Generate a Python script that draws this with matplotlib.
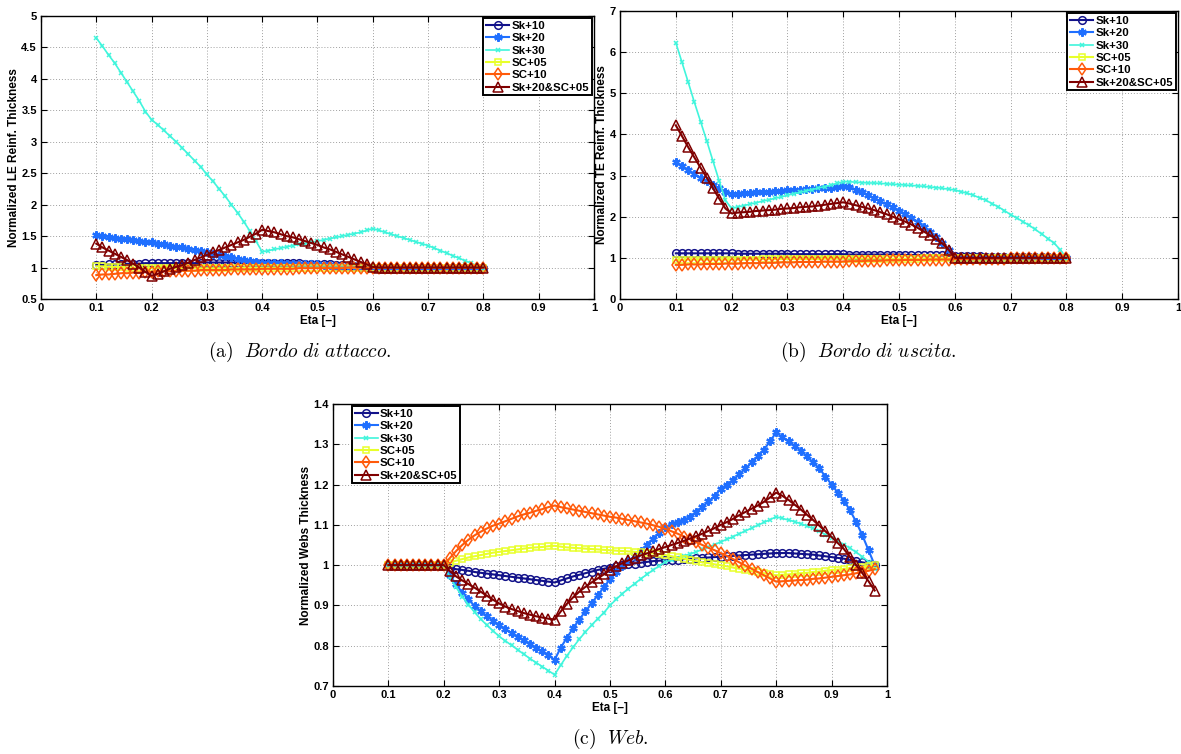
import numpy as np
import matplotlib
matplotlib.use("Agg")
import matplotlib.pyplot as plt

plt.rcParams['font.family'] = ['Liberation Sans', 'DejaVu Sans']
plt.rcParams['font.weight'] = 'bold'
plt.rcParams['mathtext.fontset'] = 'cm'

# ---------------- data ----------------
series_names = ['Sk+10', 'Sk+20', 'Sk+30', 'SC+05', 'SC+10', 'Sk+20&SC+05']

# Eta stations (step 1/90)
eta_ab = 0.1 + np.arange(64) / 90.0
eta_c = 0.1 + np.arange(80) / 90.0

# ---- (a) Leading edge reinforcement ----
le_sk10 = [1.04, 1.04, 1.05, 1.05, 1.05, 1.06, 1.06, 1.06, 1.07, 1.07,
           1.07, 1.07, 1.07, 1.07, 1.07, 1.07, 1.07, 1.08, 1.08,
           1.08, 1.08, 1.08, 1.08, 1.08, 1.08, 1.08, 1.08, 1.08,
           1.08, 1.08, 1.07, 1.07, 1.07, 1.07, 1.06, 1.06, 1.06,
           1.05, 1.05, 1.04, 1.04, 1.03, 1.03, 1.02, 1.01, 1.00,
           1.00, 1.00, 1.00, 1.00, 1.00, 1.00, 1.00, 1.00, 1.00,
           1.00, 1.00, 1.00, 1.00, 1.00, 1.00, 1.00, 1.00, 1.00]
le_sk20 = [1.51, 1.50, 1.49, 1.47, 1.46, 1.45, 1.44, 1.42, 1.41, 1.40,
           1.38, 1.37, 1.35, 1.33, 1.32, 1.30, 1.28, 1.26, 1.24,
           1.22, 1.20, 1.18, 1.16, 1.14, 1.12, 1.10, 1.09, 1.08,
           1.07, 1.07, 1.07, 1.06, 1.06, 1.06, 1.05, 1.05, 1.05,
           1.04, 1.04, 1.03, 1.03, 1.02, 1.02, 1.01, 1.01, 1.00,
           1.00, 1.00, 1.00, 1.00, 1.00, 1.00, 1.00, 1.00, 1.00,
           1.00, 1.00, 1.00, 1.00, 1.00, 1.00, 1.00, 1.00, 1.00]
le_sk30 = [4.65, 4.52, 4.38, 4.25, 4.10, 3.95, 3.80, 3.65, 3.48, 3.35,
           3.27, 3.18, 3.09, 3.00, 2.90, 2.80, 2.70, 2.60, 2.48,
           2.37, 2.25, 2.13, 2.00, 1.87, 1.73, 1.58, 1.42, 1.25,
           1.27, 1.29, 1.31, 1.33, 1.35, 1.37, 1.38, 1.40, 1.42,
           1.44, 1.46, 1.48, 1.50, 1.52, 1.54, 1.56, 1.59, 1.62,
           1.59, 1.56, 1.53, 1.50, 1.47, 1.44, 1.41, 1.38, 1.35,
           1.31, 1.27, 1.23, 1.19, 1.15, 1.11, 1.07, 1.03, 1.00]
le_sc05 = [1.02, 1.02, 1.01, 1.01, 1.01, 1.00, 1.00, 0.99, 0.99, 0.99,
           0.99, 0.99, 0.99, 0.99, 0.99, 0.99, 0.99, 0.99, 0.99,
           0.99, 0.99, 0.99, 0.99, 0.99, 1.00, 1.00, 1.00, 1.00,
           1.00, 1.00, 1.00, 1.00, 1.00, 1.00, 1.00, 1.00, 1.00,
           1.00, 1.00, 1.00, 1.00, 1.00, 1.00, 1.00, 1.00, 1.00,
           1.00, 1.00, 1.00, 1.00, 1.00, 1.00, 1.00, 1.00, 1.00,
           1.00, 1.00, 1.00, 1.00, 1.00, 1.00, 1.00, 1.00, 1.00]
le_sc10 = [0.88, 0.89, 0.89, 0.90, 0.91, 0.91, 0.92, 0.92, 0.93, 0.93,
           0.94, 0.94, 0.94, 0.95, 0.95, 0.95, 0.95, 0.96, 0.96,
           0.96, 0.96, 0.96, 0.97, 0.97, 0.97, 0.97, 0.97, 0.98,
           0.98, 0.98, 0.98, 0.98, 0.98, 0.99, 0.99, 0.99, 0.99,
           0.99, 0.99, 0.99, 0.99, 1.00, 1.00, 1.00, 1.00, 1.00,
           1.00, 1.00, 1.00, 1.00, 1.00, 1.00, 1.00, 1.00, 1.00,
           1.00, 1.00, 1.00, 1.00, 1.00, 1.00, 1.00, 1.00, 1.00]
le_mix = [1.38, 1.32, 1.27, 1.22, 1.17, 1.12, 1.06, 1.00, 0.93, 0.87,
          0.90, 0.94, 0.98, 1.01, 1.04, 1.08, 1.12, 1.16, 1.20,
          1.24, 1.28, 1.32, 1.36, 1.40, 1.44, 1.49, 1.54, 1.60,
          1.58, 1.56, 1.53, 1.50, 1.48, 1.45, 1.42, 1.39, 1.36,
          1.32, 1.29, 1.25, 1.21, 1.17, 1.13, 1.09, 1.05, 1.01,
          1.00, 1.00, 1.00, 1.00, 1.00, 1.00, 1.00, 1.00, 1.00,
          1.00, 1.00, 1.00, 1.00, 1.00, 1.00, 1.00, 1.00, 1.00]

# ---- (b) Trailing edge reinforcement ----
te_sk10 = [1.11, 1.11, 1.11, 1.11, 1.11, 1.11, 1.11, 1.11, 1.11, 1.11,
           1.10, 1.10, 1.10, 1.10, 1.10, 1.10, 1.10, 1.10, 1.10,
           1.09, 1.09, 1.09, 1.09, 1.09, 1.09, 1.09, 1.09, 1.09,
           1.08, 1.08, 1.08, 1.08, 1.08, 1.08, 1.08, 1.08, 1.08,
           1.07, 1.07, 1.07, 1.06, 1.06, 1.06, 1.06, 1.05, 1.05,
           1.05, 1.04, 1.04, 1.04, 1.03, 1.03, 1.03, 1.02, 1.02,
           1.02, 1.02, 1.01, 1.01, 1.01, 1.01, 1.00, 1.00, 1.00]
te_sk20 = [3.33, 3.23, 3.13, 3.03, 2.95, 2.87, 2.77, 2.69, 2.60, 2.55,
           2.56, 2.57, 2.58, 2.59, 2.60, 2.61, 2.62, 2.63, 2.64,
           2.65, 2.66, 2.67, 2.68, 2.69, 2.70, 2.71, 2.73, 2.75,
           2.72, 2.66, 2.60, 2.53, 2.45, 2.37, 2.30, 2.23, 2.15,
           2.07, 1.98, 1.88, 1.76, 1.64, 1.50, 1.36, 1.20, 1.00,
           1.00, 1.00, 1.00, 1.00, 1.00, 1.00, 1.00, 1.00, 1.00,
           1.00, 1.00, 1.00, 1.00, 1.00, 1.00, 1.00, 1.00, 1.00]
te_sk30 = [6.23, 5.75, 5.27, 4.78, 4.31, 3.84, 3.35, 2.87, 2.40, 2.20,
           2.24, 2.27, 2.31, 2.34, 2.38, 2.41, 2.45, 2.48, 2.52,
           2.56, 2.59, 2.63, 2.66, 2.70, 2.73, 2.77, 2.81, 2.85,
           2.85, 2.84, 2.83, 2.82, 2.82, 2.81, 2.80, 2.79, 2.78,
           2.77, 2.76, 2.75, 2.74, 2.72, 2.71, 2.69, 2.67, 2.65,
           2.61, 2.57, 2.52, 2.46, 2.40, 2.32, 2.24, 2.15, 2.05,
           1.97, 1.88, 1.79, 1.69, 1.58, 1.47, 1.36, 1.20, 1.00]
te_sc05 = [0.96, 0.96, 0.96, 0.96, 0.96, 0.96, 0.96, 0.96, 0.96, 0.96,
           0.96, 0.96, 0.96, 0.96, 0.97, 0.97, 0.97, 0.97, 0.97,
           0.97, 0.97, 0.97, 0.97, 0.97, 0.98, 0.98, 0.98, 0.98,
           0.98, 0.98, 0.98, 0.98, 0.98, 0.98, 0.98, 0.98, 0.98,
           0.98, 0.98, 0.98, 0.99, 0.99, 0.99, 0.99, 0.99, 0.99,
           0.99, 0.99, 0.99, 0.99, 0.99, 0.99, 0.99, 0.99, 0.99,
           0.99, 0.99, 0.99, 0.99, 1.00, 1.00, 1.00, 1.00, 1.00]
te_sc10 = [0.83, 0.83, 0.84, 0.84, 0.84, 0.85, 0.85, 0.85, 0.86, 0.86,
           0.86, 0.87, 0.87, 0.87, 0.88, 0.88, 0.88, 0.89, 0.89,
           0.89, 0.90, 0.90, 0.90, 0.90, 0.91, 0.91, 0.91, 0.91,
           0.92, 0.92, 0.92, 0.93, 0.93, 0.93, 0.94, 0.94, 0.94,
           0.95, 0.95, 0.95, 0.95, 0.96, 0.96, 0.96, 0.96, 0.97,
           0.97, 0.97, 0.97, 0.98, 0.98, 0.98, 0.98, 0.98, 0.99,
           0.99, 0.99, 0.99, 0.99, 0.99, 1.00, 1.00, 1.00, 1.00]
te_mix = [4.22, 3.96, 3.69, 3.44, 3.19, 2.95, 2.69, 2.44, 2.20, 2.08,
          2.10, 2.11, 2.12, 2.14, 2.15, 2.16, 2.17, 2.19, 2.20,
          2.21, 2.23, 2.24, 2.25, 2.27, 2.29, 2.31, 2.33, 2.35,
          2.32, 2.28, 2.24, 2.20, 2.16, 2.11, 2.06, 2.00, 1.94,
          1.88, 1.81, 1.73, 1.64, 1.55, 1.45, 1.35, 1.20, 1.00,
          1.00, 1.00, 1.00, 1.00, 1.00, 1.00, 1.00, 1.00, 1.00,
          1.00, 1.00, 1.00, 1.00, 1.00, 1.00, 1.00, 1.00, 1.00]

# ---- (c) Webs ----
web_sk10 = [1.000, 1.000, 1.000, 1.000, 1.000, 1.000, 1.000, 1.000, 1.000, 1.000,
            0.993, 0.990, 0.988, 0.986, 0.983, 0.981, 0.979, 0.977, 0.975,
            0.973, 0.971, 0.969, 0.967, 0.965, 0.963, 0.961, 0.959, 0.957,
            0.962, 0.967, 0.972, 0.976, 0.980, 0.984, 0.988, 0.991, 0.994,
            0.997, 1.000, 1.002, 1.004, 1.006, 1.008, 1.010, 1.011, 1.012,
            1.013, 1.014, 1.015, 1.016, 1.017, 1.018, 1.019, 1.020, 1.021,
            1.022, 1.023, 1.024, 1.025, 1.026, 1.027, 1.028, 1.029, 1.030,
            1.030, 1.030, 1.029, 1.028, 1.027, 1.026, 1.024, 1.022, 1.020,
            1.018, 1.016, 1.013, 1.010, 1.007, 1.004, 1.000]
web_sk20 = [1.000, 1.000, 1.000, 1.000, 1.000, 1.000, 1.000, 1.000, 1.000, 1.000,
            0.975, 0.952, 0.932, 0.915, 0.899, 0.885, 0.873, 0.862, 0.851,
            0.841, 0.831, 0.822, 0.813, 0.804, 0.795, 0.786, 0.776, 0.765,
            0.795, 0.820, 0.843, 0.865, 0.885, 0.905, 0.925, 0.945, 0.965,
            0.982, 0.997, 1.010, 1.023, 1.035, 1.050, 1.065, 1.080, 1.095,
            1.101, 1.107, 1.113, 1.120, 1.132, 1.145, 1.158, 1.172, 1.190,
            1.200, 1.212, 1.225, 1.240, 1.255, 1.270, 1.287, 1.307, 1.330,
            1.317, 1.307, 1.296, 1.284, 1.270, 1.255, 1.240, 1.220, 1.200,
            1.180, 1.160, 1.136, 1.107, 1.074, 1.037, 1.000]
web_sk30 = [1.000, 1.000, 1.000, 1.000, 1.000, 1.000, 1.000, 1.000, 1.000, 1.000,
            0.970, 0.945, 0.922, 0.902, 0.883, 0.866, 0.851, 0.837, 0.823,
            0.812, 0.801, 0.790, 0.779, 0.768, 0.758, 0.748, 0.738, 0.728,
            0.752, 0.775, 0.796, 0.816, 0.834, 0.851, 0.867, 0.882, 0.900,
            0.915, 0.929, 0.942, 0.954, 0.966, 0.977, 0.988, 0.998, 1.008,
            1.013, 1.018, 1.023, 1.028, 1.033, 1.039, 1.045, 1.051, 1.058,
            1.064, 1.071, 1.078, 1.085, 1.092, 1.099, 1.106, 1.113, 1.120,
            1.116, 1.112, 1.108, 1.103, 1.097, 1.091, 1.084, 1.076, 1.068,
            1.060, 1.051, 1.042, 1.032, 1.021, 1.008, 0.990]
web_sc05 = [1.000, 1.000, 1.000, 1.000, 1.000, 1.000, 1.000, 1.000, 1.000, 1.000,
            1.006, 1.011, 1.015, 1.019, 1.022, 1.025, 1.028, 1.031, 1.033,
            1.035, 1.037, 1.039, 1.041, 1.043, 1.044, 1.045, 1.047, 1.048,
            1.046, 1.044, 1.043, 1.042, 1.041, 1.040, 1.039, 1.038, 1.037,
            1.036, 1.035, 1.034, 1.033, 1.032, 1.030, 1.029, 1.027, 1.025,
            1.022, 1.019, 1.016, 1.013, 1.010, 1.007, 1.005, 1.002, 1.000,
            0.997, 0.994, 0.991, 0.988, 0.985, 0.982, 0.980, 0.977, 0.975,
            0.976, 0.977, 0.979, 0.980, 0.981, 0.983, 0.984, 0.986, 0.988,
            0.989, 0.991, 0.993, 0.995, 0.996, 0.998, 1.000]
web_sc10 = [1.000, 1.000, 1.000, 1.000, 1.000, 1.000, 1.000, 1.000, 1.000, 1.000,
            1.018, 1.035, 1.050, 1.063, 1.074, 1.083, 1.091, 1.098, 1.103,
            1.109, 1.115, 1.121, 1.126, 1.130, 1.135, 1.139, 1.144, 1.148,
            1.144, 1.141, 1.138, 1.135, 1.132, 1.129, 1.126, 1.123, 1.120,
            1.118, 1.115, 1.112, 1.109, 1.106, 1.103, 1.099, 1.095, 1.090,
            1.084, 1.078, 1.071, 1.064, 1.057, 1.050, 1.043, 1.037, 1.030,
            1.023, 1.015, 1.007, 0.999, 0.991, 0.983, 0.975, 0.967, 0.959,
            0.960, 0.961, 0.962, 0.963, 0.964, 0.966, 0.967, 0.969, 0.971,
            0.973, 0.975, 0.977, 0.980, 0.983, 0.986, 0.990]
web_mix = [1.000, 1.000, 1.000, 1.000, 1.000, 1.000, 1.000, 1.000, 1.000, 1.000,
           0.985, 0.972, 0.962, 0.953, 0.944, 0.934, 0.924, 0.914, 0.905,
           0.897, 0.891, 0.886, 0.881, 0.877, 0.873, 0.870, 0.867, 0.865,
           0.885, 0.904, 0.920, 0.934, 0.946, 0.957, 0.967, 0.977, 0.988,
           0.997, 1.005, 1.012, 1.018, 1.024, 1.029, 1.034, 1.040, 1.045,
           1.050, 1.055, 1.060, 1.066, 1.072, 1.078, 1.085, 1.092, 1.100,
           1.107, 1.115, 1.124, 1.132, 1.140, 1.148, 1.157, 1.168, 1.180,
           1.172, 1.162, 1.150, 1.138, 1.125, 1.112, 1.098, 1.084, 1.070,
           1.055, 1.040, 1.020, 1.000, 0.980, 0.960, 0.937]

# ---------------- styles ----------------
styles = [
    dict(color='#12128a', marker='o', ms=5.5, mfc='none', mew=1.1, lw=1.5),
    dict(color='#1f6fff', marker=(6, 2, 0), ms=6, mew=1.6, lw=1.5),
    dict(color='#40f5dc', marker='x', ms=3.5, mew=1.1, lw=1.2),
    dict(color='#e8ff2a', marker='s', ms=5, mfc='none', mew=1.1, lw=1.5),
    dict(color='#ff5a0a', marker='d', ms=6.5, mfc='none', mew=1.1, lw=1.5),
    dict(color='#7f0000', marker='^', ms=7, mfc='none', mew=1.1, lw=1.5),
]

W, H = 1181, 754
fig = plt.figure(figsize=(W / 100, H / 100), dpi=100)

def px_axes(l, t, r, b):
    return fig.add_axes([l / W, 1 - b / H, (r - l) / W, (b - t) / H])

def style_axes(ax, xlim, ylim, yticks, ylabel, ytick_labels):
    ax.set_xlim(*xlim)
    ax.set_ylim(*ylim)
    ax.set_xticks([0, 0.1, 0.2, 0.3, 0.4, 0.5, 0.6, 0.7, 0.8, 0.9, 1])
    ax.set_xticklabels(['0', '0.1', '0.2', '0.3', '0.4', '0.5', '0.6', '0.7', '0.8', '0.9', '1'])
    ax.set_yticks(yticks)
    ax.set_yticklabels(ytick_labels)
    ax.grid(True, linestyle=(0, (1, 2)), color='#a0a0a0', lw=0.7)
    ax.tick_params(direction='in', top=True, right=True, labelsize=8, length=4, width=0.8, pad=3)
    for lab in ax.get_xticklabels() + ax.get_yticklabels():
        lab.set_fontweight('bold')
    for s in ax.spines.values():
        s.set_linewidth(1.0)
    ax.set_xlabel('Eta [–]', fontsize=8.5, fontweight='bold', labelpad=1)
    ax.set_ylabel(ylabel, fontsize=8.5, fontweight='bold', labelpad=1)

def draw(ax, x, ys):
    for name, y, st in zip(series_names, ys, styles):
        ax.plot(x, y, label=name, **st)

def legend(ax, **kw):
    leg = ax.legend(prop={'weight': 'bold', 'size': 8.2}, frameon=True, fancybox=False,
                    edgecolor='black', framealpha=1, handlelength=2.0, handletextpad=0.2,
                    borderpad=0.25, labelspacing=0.2, borderaxespad=0.2, **kw)
    leg.get_frame().set_linewidth(1.4)
    return leg

# (a)
ax_a = px_axes(41, 16, 594, 299)
draw(ax_a, eta_ab, [le_sk10, le_sk20, le_sk30, le_sc05, le_sc10, le_mix])
style_axes(ax_a, (0, 1), (0.5, 5), [0.5, 1, 1.5, 2, 2.5, 3, 3.5, 4, 4.5, 5],
           'Normalized LE Reinf. Thickness',
           ['0.5', '1', '1.5', '2', '2.5', '3', '3.5', '4', '4.5', '5'])
legend(ax_a, loc='upper right')

# (b)
ax_b = px_axes(620, 11, 1178, 299)
draw(ax_b, eta_ab, [te_sk10, te_sk20, te_sk30, te_sc05, te_sc10, te_mix])
style_axes(ax_b, (0, 1), (0, 7), [0, 1, 2, 3, 4, 5, 6, 7],
           'Normalized TE Reinf. Thickness',
           ['0', '1', '2', '3', '4', '5', '6', '7'])
legend(ax_b, loc='upper right')

# (c)
ax_c = px_axes(333, 404, 887, 686)
draw(ax_c, eta_c, [web_sk10, web_sk20, web_sk30, web_sc05, web_sc10, web_mix])
style_axes(ax_c, (0, 1), (0.7, 1.4), [0.7, 0.8, 0.9, 1.0, 1.1, 1.2, 1.3, 1.4],
           'Normalized Webs Thickness',
           ['0.7', '0.8', '0.9', '1', '1.1', '1.2', '1.3', '1.4'])
legend(ax_c, loc='upper left', bbox_to_anchor=(0.03, 1.0))

# captions
cap_kw = dict(ha='center', va='center', fontsize=14, fontweight='normal')
fig.text(300 / W, 1 - 352 / H, r'$\mathrm{(a)}\ \ \mathit{Bordo\ di\ attacco.}$', **cap_kw)
fig.text(868 / W, 1 - 352 / H, r'$\mathrm{(b)}\ \ \mathit{Bordo\ di\ uscita.}$', **cap_kw)
fig.text(610 / W, 1 - 739 / H, r'$\mathrm{(c)}\ \ \mathit{Web.}$', **cap_kw)

fig.savefig('out.png', dpi=100)
